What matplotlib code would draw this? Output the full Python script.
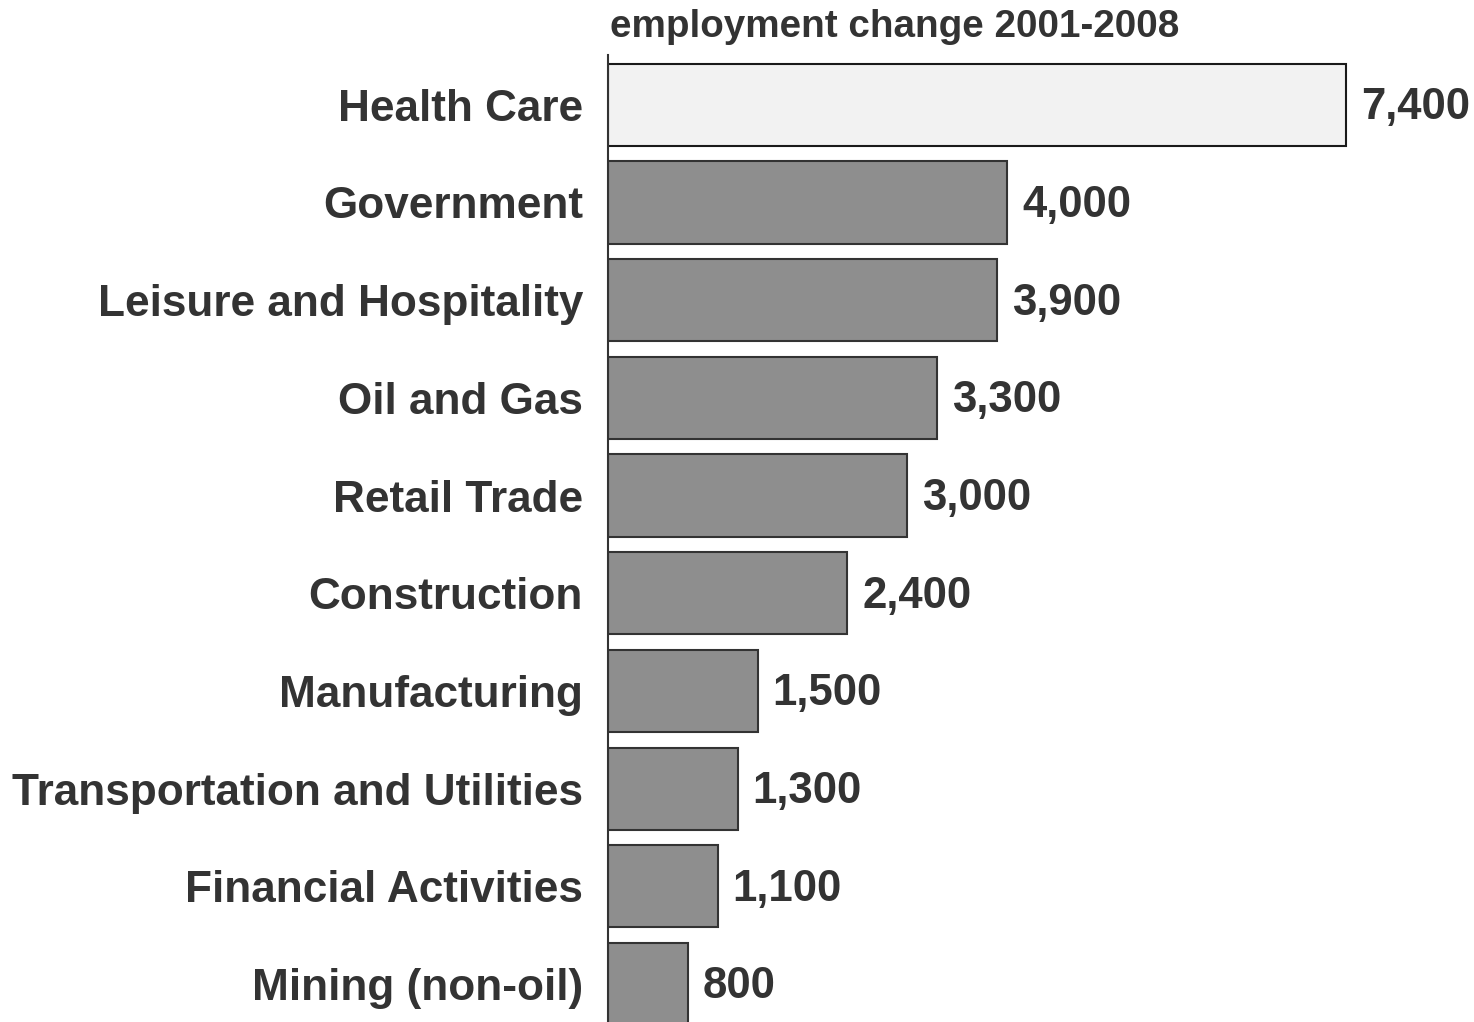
import matplotlib.pyplot as plt
import numpy as np

plt.rcParams['font.family'] = ['Liberation Sans', 'DejaVu Sans']

industries = ["Health Care", "Government", "Leisure and Hospitality", "Oil and Gas",
              "Retail Trade", "Construction", "Manufacturing",
              "Transportation and Utilities", "Financial Activities", "Mining (non-oil)"]
job_change = [7400, 4000, 3900, 3300, 3000, 2400, 1500, 1300, 1100, 800]

fig = plt.figure(figsize=(14.74, 10.22), dpi=100)
ax = fig.add_axes([608 / 1474, 0.0, 1 - 608 / 1474, 1 - 55 / 1022])

y = np.arange(len(industries))
colors = ['#f2f2f2'] + ['#8e8e8e'] * (len(industries) - 1)
edges = ['#1a1a1a'] + ['#333333'] * (len(industries) - 1)
ax.barh(y, job_change, height=0.84, color=colors, edgecolor=edges, linewidth=1.5)

ax.set_xlim(0, 866 / 0.09973)
ax.set_ylim(9.39, -0.51)

# value labels just right of each bar
for yi, v in zip(y, job_change):
    ax.text(v + 150, yi + 0.03, f"{v:,}", ha='left', va='center', fontsize=31.5,
            fontweight='bold', color='#333333')

ax.set_yticks(y)
ax.set_yticklabels(industries, fontsize=31.8, fontweight='bold', color='#333333')
ax.tick_params(axis='y', length=0, pad=18)
ax.set_xticks([])

for s in ['top', 'right', 'bottom']:
    ax.spines[s].set_visible(False)
ax.spines['left'].set_color('#333333')
ax.spines['left'].set_linewidth(1.5)

fig.text(610 / 1474, 1 - 27 / 1022, "employment change 2001-2008", ha='left', va='center',
         fontsize=27.8, fontweight='bold', color='#333333')

fig.savefig("out.png", dpi=100, facecolor='white')
